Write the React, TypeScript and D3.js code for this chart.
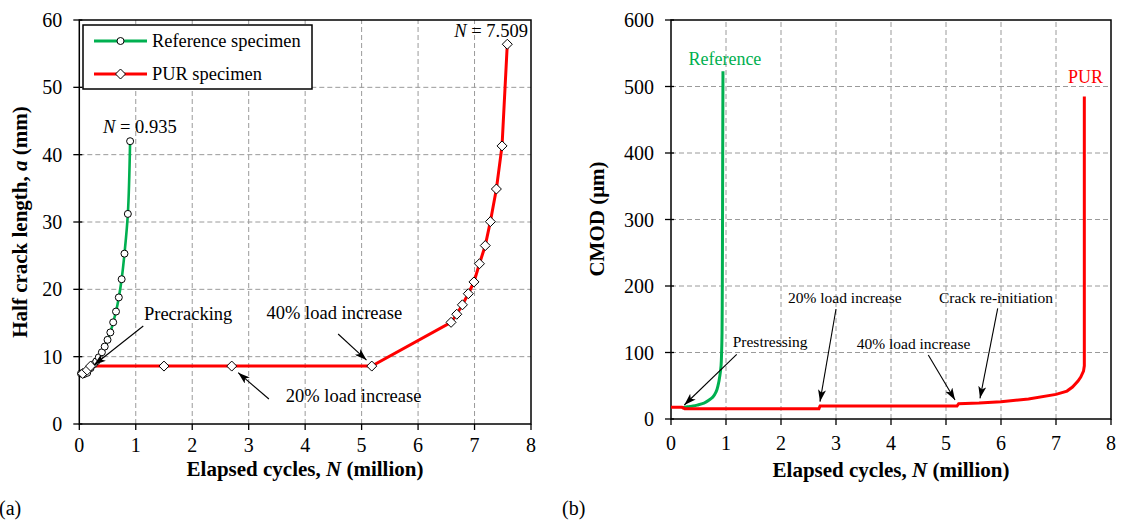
import React from "react";
import * as d3 from "d3";

// ---- Data (a): half crack length vs elapsed cycles ----
const refN = [0.03, 0.08, 0.14, 0.2, 0.26, 0.3, 0.345, 0.4, 0.45, 0.5, 0.55, 0.6, 0.65, 0.7, 0.75, 0.8, 0.86, 0.9];
const refA = [7.5, 7.4, 7.6, 8.3, 8.9, 9.3, 9.9, 10.65, 11.5, 12.5, 13.6, 15.1, 16.7, 18.8, 21.5, 25.3, 31.2, 42.0];
const purN = [0.06, 0.14, 0.2, 1.5, 2.7, 5.18, 6.584, 6.685, 6.785, 6.89, 6.99, 7.087, 7.19, 7.28, 7.387, 7.487, 7.58];
const purA = [7.5, 8.0, 8.6, 8.6, 8.6, 8.6, 15.1, 16.3, 17.7, 19.35, 21.1, 23.8, 26.5, 30.05, 34.9, 41.3, 56.4];

// ---- Data (b): CMOD vs elapsed cycles ----
const cmodRefN = [0.2, 0.3, 0.4, 0.5, 0.6, 0.7, 0.76, 0.82, 0.86, 0.89, 0.91, 0.92, 0.928, 0.933, 0.937, 0.94, 0.945];
const cmodRef = [17, 18.5, 19.5, 21.5, 24, 29, 33, 41, 52, 66, 80, 100, 130, 200, 300, 400, 523];
const cmodPurN = [0, 0.2, 0.25, 2.69, 2.71, 5.2, 5.23, 5.6, 6, 6.5, 7, 7.2, 7.3, 7.4, 7.45, 7.5, 7.515, 7.515];
const cmodPur = [17.5, 17.5, 15.5, 15.5, 19.5, 19.5, 23, 24, 26, 30, 37, 42, 48, 57, 63, 72, 80, 485];

const xTicks = [0, 1, 2, 3, 4, 5, 6, 7, 8];
const aTicks = [0, 10, 20, 30, 40, 50, 60];
const cTicks = [0, 100, 200, 300, 400, 500, 600];

const GREEN = "#00B050";
const RED = "#FF0000";
const FONT = "'Liberation Serif', 'Times New Roman', serif";
const GRID = "#9a9a9a";

const xL = d3.scaleLinear().domain([0, 8]).range([79.3, 531]);
const yL = d3.scaleLinear().domain([0, 60]).range([424, 20]);
const xR = d3.scaleLinear().domain([0, 8]).range([671, 1111]);
const yR = d3.scaleLinear().domain([0, 600]).range([419, 20]);

function zip(a: number[], b: number[]): [number, number][] {
  return a.map((v, i) => [v, b[i]] as [number, number]);
}

function diamond(cx: number, cy: number, r: number) {
  return `M${cx},${cy - r}L${cx + r},${cy}L${cx},${cy + r}L${cx - r},${cy}Z`;
}

function Frame({ x, y, xt, yt, xLabelDy }: any) {
  const [x0, x1] = x.range();
  const [y0, y1] = y.range();
  return (
    <g>
      {xt.slice(1, -1).map((t: number) => (
        <line key={"gx" + t} x1={x(t)} x2={x(t)} y1={y0} y2={y1} stroke={GRID} strokeWidth={1} strokeDasharray="5,3" />
      ))}
      {yt.slice(1, -1).map((t: number) => (
        <line key={"gy" + t} x1={x0} x2={x1} y1={y(t)} y2={y(t)} stroke={GRID} strokeWidth={1} strokeDasharray="5,3" />
      ))}
      <rect x={x0} y={y1} width={x1 - x0} height={y0 - y1} fill="none" stroke="#000" strokeWidth={1.5} />
      {xt.map((t: number) => (
        <g key={"tx" + t}>
          <line x1={x(t)} x2={x(t)} y1={y0} y2={y0 + 6} stroke="#000" strokeWidth={1.3} />
          <text x={x(t)} y={y0 + xLabelDy} textAnchor="middle" fontSize={20} fontFamily={FONT}>{t}</text>
        </g>
      ))}
      {yt.map((t: number) => (
        <g key={"ty" + t}>
          <line x1={x0 - 6} x2={x0 + 3} y1={y(t)} y2={y(t)} stroke="#000" strokeWidth={1.3} />
          <text x={x0 - 17} y={y(t) + 7} textAnchor="end" fontSize={20} fontFamily={FONT}>{t}</text>
        </g>
      ))}
    </g>
  );
}

function Arrow({ x, y, from, to }: any) {
  return (
    <line x1={x(from[0])} y1={y(from[1])} x2={x(to[0])} y2={y(to[1])} stroke="#000" strokeWidth={1.1} markerEnd="url(#arrowHead)" />
  );
}

export default function App() {
  const lineL = d3.line<[number, number]>().x((d) => xL(d[0])).y((d) => yL(d[1]));
  const smoothL = d3.line<[number, number]>().x((d) => xL(d[0])).y((d) => yL(d[1])).curve(d3.curveCatmullRom.alpha(0.5));
  const lineR = d3.line<[number, number]>().x((d) => xR(d[0])).y((d) => yR(d[1]));
  const smoothR = d3.line<[number, number]>().x((d) => xR(d[0])).y((d) => yR(d[1])).curve(d3.curveMonotoneY);

  const ref = zip(refN, refA);
  const pur = zip(purN, purA);
  const cRef = zip(cmodRefN, cmodRef);
  const cPur = zip(cmodPurN, cmodPur);

  return (
    <svg width={1121} height={521} style={{ position: "absolute", left: 0, top: 0, background: "#fff" }} fontFamily={FONT}>
      <defs>
        <marker id="arrowHead" viewBox="0 0 12 8" refX="12" refY="4" markerWidth="12" markerHeight="8" markerUnits="userSpaceOnUse" orient="auto">
          <path d="M0,0 L12,4 L0,8 L3,4 Z" fill="#000" />
        </marker>
      </defs>
      <rect x={0} y={0} width={1121} height={521} fill="#fff" />

      {/* ---------- (a) ---------- */}
      <Frame x={xL} y={yL} xt={xTicks} yt={aTicks} xLabelDy={28} />
      <path d={lineL(pur.slice(2)) || ""} fill="none" stroke={RED} strokeWidth={3} />
      <path d={smoothL(ref) || ""} fill="none" stroke={GREEN} strokeWidth={2.6} />
      {ref.map((d, i) => (
        <circle key={"rc" + i} cx={xL(d[0])} cy={yL(d[1])} r={3.5} fill="#fff" stroke="#000" strokeWidth={1} />
      ))}
      {pur.map((d, i) => (
        <path key={"pd" + i} d={diamond(xL(d[0]), yL(d[1]), 5)} fill="#fff" stroke="#000" strokeWidth={1} />
      ))}

      {/* legend */}
      <rect x={83} y={25} width={229} height={64} fill="#fff" stroke="#000" strokeWidth={1.5} />
      <line x1={94} x2={147} y1={41} y2={41} stroke={GREEN} strokeWidth={3} />
      <circle cx={120.5} cy={41} r={3.5} fill="#fff" stroke="#000" strokeWidth={1} />
      <text x={152} y={47} fontSize={18.4}>Reference specimen</text>
      <line x1={94} x2={147} y1={74} y2={74} stroke={RED} strokeWidth={3} />
      <path d={diamond(120.5, 74, 5)} fill="#fff" stroke="#000" strokeWidth={1} />
      <text x={152} y={80} fontSize={18.4}>PUR specimen</text>

      {/* annotations (a) */}
      <text x={xL(0.42)} y={yL(43.2)} fontSize={18.5}><tspan fontStyle="italic">N</tspan> = 0.935</text>
      <text x={xL(7.947)} y={yL(57.48)} fontSize={18.5} textAnchor="end"><tspan fontStyle="italic">N</tspan> = 7.509</text>
      <text x={xL(1.145)} y={yL(15.45)} fontSize={18.5}>Precracking</text>
      <Arrow x={xL} y={yL} from={[1.133, 14.55]} to={[0.26, 8.76]} />
      <text x={xL(3.317)} y={yL(15.55)} fontSize={18.5}>40% load increase</text>
      <Arrow x={xL} y={yL} from={[4.584, 13.37]} to={[5.087, 9.5]} />
      <text x={xL(3.658)} y={yL(3.31)} fontSize={18.5}>20% load increase</text>
      <Arrow x={xL} y={yL} from={[3.358, 3.71]} to={[2.814, 7.62]} />

      <text x={305} y={476} textAnchor="middle" fontSize={21} fontWeight="bold">
        Elapsed cycles, <tspan fontStyle="italic">N</tspan> (million)
      </text>
      <text transform="translate(27,222) rotate(-90)" textAnchor="middle" fontSize={21} fontWeight="bold">
        Half crack length, <tspan fontStyle="italic">a</tspan> (mm)
      </text>
      <text x={-1} y={515} fontSize={20}>(a)</text>

      {/* ---------- (b) ---------- */}
      <Frame x={xR} y={yR} xt={xTicks} yt={cTicks} xLabelDy={31} />
      <path d={smoothR(cRef) || ""} fill="none" stroke={GREEN} strokeWidth={3} />
      <path d={lineR(cPur) || ""} fill="none" stroke={RED} strokeWidth={3} />

      <text x={xR(0.98)} y={yR(532)} fontSize={18} fill={GREEN} textAnchor="middle">Reference</text>
      <text x={xR(7.218)} y={yR(504.8)} fontSize={18} fill={RED}>PUR</text>
      <text x={xR(1.122)} y={yR(108.3)} fontSize={15.5}>Prestressing</text>
      <Arrow x={xR} y={yR} from={[1.195, 97.3]} to={[0.242, 21.05]} />
      <text x={xR(2.127)} y={yR(174.4)} fontSize={15.5}>20% load increase</text>
      <Arrow x={xR} y={yR} from={[3.0, 165.4]} to={[2.709, 26]} />
      <text x={xR(3.376)} y={yR(105.3)} fontSize={15.5}>40% load increase</text>
      <Arrow x={xR} y={yR} from={[4.678, 96.2]} to={[5.164, 28.6]} />
      <text x={xR(4.873)} y={yR(174.4)} fontSize={15.5}>Crack re-initiation</text>
      <Arrow x={xR} y={yR} from={[5.94, 166.5]} to={[5.618, 31.1]} />

      <text x={891} y={477} textAnchor="middle" fontSize={21} fontWeight="bold">
        Elapsed cycles, <tspan fontStyle="italic">N</tspan> (million)
      </text>
      <text transform="translate(604,219) rotate(-90)" textAnchor="middle" fontSize={21} fontWeight="bold">
        CMOD (μm)
      </text>
      <text x={562} y={515} fontSize={20}>(b)</text>
    </svg>
  );
}
